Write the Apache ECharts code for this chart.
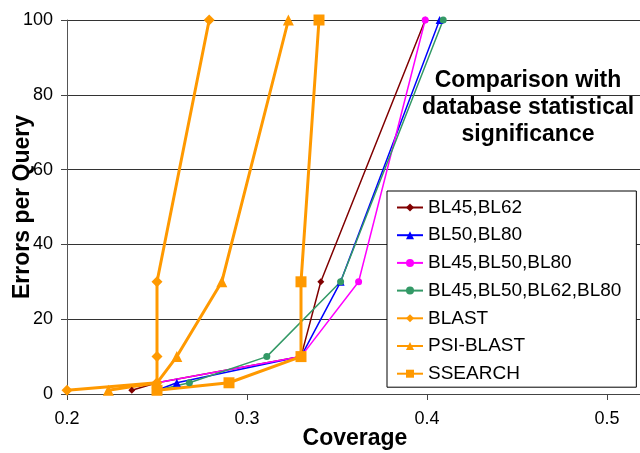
<!DOCTYPE html>
<html><head><meta charset="utf-8">
<script src="https://cdn.jsdelivr.net/npm/echarts@6/dist/echarts.min.js"></script>
<style>html,body{margin:0;padding:0;background:#fff}#c{width:640px;height:453px}</style>
</head><body><div id="c"></div>
<script>
var seriesNames = ['BL45,BL62','BL50,BL80','BL45,BL50,BL80','BL45,BL50,BL62,BL80','BLAST','PSI-BLAST','SSEARCH'];
var bl45bl62 = [[0.236,1],[0.25,3],[0.33,10],[0.341,30],[0.399,100]];
var bl50bl80 = [[0.25,1],[0.261,3],[0.33,10],[0.352,30],[0.407,100]];
var bl45bl50bl80 = [[0.25,1],[0.25,3],[0.33,10],[0.362,30],[0.399,100]];
var bl4all = [[0.25,1],[0.268,3],[0.311,10],[0.352,30],[0.409,100]];
var blast = [[0.2,1],[0.25,3],[0.25,10],[0.25,30],[0.279,100]];
var psiblast = [[0.223,1],[0.25,3],[0.261,10],[0.286,30],[0.323,100]];
var ssearch = [[0.25,1],[0.29,3],[0.33,10],[0.33,30],[0.34,100]];
var xTicks = [0.2,0.3,0.4,0.5];
var yTicks = [0,20,40,60,80,100];

var chart = echarts.init(document.getElementById('c'));
var F = '"Liberation Sans", Arial, sans-serif';
function s(name, data, color, symbol, size, width){
  return {name:name, type:'line', data:data, symbol:symbol, symbolSize:size,
    lineStyle:{color:color, width:width}, itemStyle:{color:color}, animation:false};
}
var orange = '#FF9900';
chart.setOption({
  animation:false,
  textStyle:{fontFamily:F},
  grid:{left:67, top:20, width:576, height:374, containLabel:false, outerBoundsMode:'none'},
  xAxis:{type:'value', min:0.2, max:0.52, interval:0.1,
    name:'Coverage', nameLocation:'middle', nameGap:33, nameMoveOverlap:false,
    nameTextStyle:{fontSize:23, fontWeight:'bold', color:'#000', fontFamily:F},
    axisLine:{lineStyle:{color:'#444', width:1}},
    axisTick:{show:true, length:6, lineStyle:{color:'#444'}},
    axisLabel:{fontSize:18, color:'#000', margin:16, fontFamily:F,
      formatter:function(v){ var t = xTicks.find(function(x){return Math.abs(x-v)<1e-9;}); return t===undefined?'':String(t);}},
    splitLine:{show:false}},
  yAxis:{type:'value', min:0, max:100, interval:20,
    name:'Errors per Query', nameLocation:'middle', nameGap:33, nameRotate:90, nameMoveOverlap:false,
    nameTextStyle:{fontSize:23, fontWeight:'bold', color:'#000', fontFamily:F},
    axisLine:{show:true, lineStyle:{color:'#555', width:1}},
    axisTick:{show:true, length:6, lineStyle:{color:'#444'}},
    axisLabel:{fontSize:18, color:'#000', margin:14, fontFamily:F},
    splitLine:{show:true, lineStyle:{color:'#333', width:1}}},
  legend:{orient:'vertical', left:387, top:191,
    backgroundColor:'#fff', borderColor:'#000', borderWidth:1, padding:[7,15,4,9],
    itemGap:8.7, itemWidth:26, itemHeight:10, align:'left',
    textStyle:{fontSize:19, lineHeight:19, color:'#000', fontFamily:F},
    data:seriesNames},
  graphic:[{type:'text', x:528, y:67.5, style:{text:'Comparison with\ndatabase statistical\nsignificance',
    align:'center', fontSize:23, fontWeight:'bold', lineHeight:27, fill:'#000', fontFamily:F}}],
  series:[
    s(seriesNames[0], bl45bl62, '#800000', 'diamond', 7, 1.5),
    s(seriesNames[1], bl50bl80, '#0000FF', 'triangle', 8, 1.5),
    s(seriesNames[2], bl45bl50bl80, '#FF00FF', 'circle', 7, 1.5),
    s(seriesNames[3], bl4all, '#339966', 'circle', 7, 1.5),
    s(seriesNames[4], blast, orange, 'diamond', 11, 3),
    s(seriesNames[5], psiblast, orange, 'triangle', 11, 3),
    s(seriesNames[6], ssearch, orange, 'rect', 11, 3)
  ]
});
</script></body></html>
